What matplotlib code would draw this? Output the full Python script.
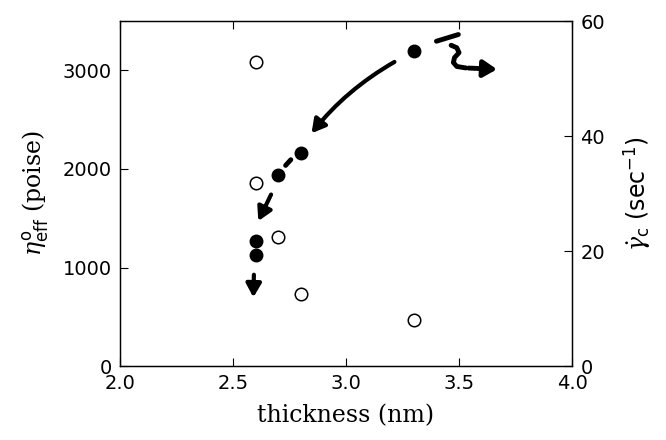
import numpy as np
import matplotlib.pyplot as plt

# filled circles: eta_eff (left axis, poise)
thick_eta = [3.3, 2.8, 2.7, 2.6, 2.6]
eta_eff = [3200, 2165, 1935, 1270, 1132]

# open circles: gamma_c (right axis, 1/sec)
thick_gam = [2.6, 2.6, 2.7, 2.8, 3.3]
gamma_c = [52.9, 31.8, 22.5, 12.6, 8.1]

# hand drawn arrows (start x, start y, end x, end y, curvature), left axis units
arrows = [
    (3.225, 3100, 2.84, 2340, 0.1),
    (2.674, 1766, 2.607, 1446, 0.0),
    (2.593, 955, 2.59, 669, 0.0),
]
# short dashes
dashes = [
    ([3.40, 3.497], [3296, 3364]),
    ([2.733, 2.756], [2036, 2094]),
]
# squiggle arrow
squig_x = [3.465, 3.49, 3.50, 3.48, 3.475, 3.49, 3.53]
squig_y = [3255, 3230, 3180, 3130, 3080, 3040, 3025]
squig_tip = (3.68, 3010)

plt.rcParams['font.family'] = 'DejaVu Sans'
plt.rcParams['mathtext.fontset'] = 'dejavuserif'

fig = plt.figure(figsize=(6.66, 4.40), dpi=100)
ax = fig.add_axes([0.180, 0.168, 0.679, 0.784])
ax2 = ax.twinx()

ax.plot(thick_eta, eta_eff, 'o', color='black', ms=9, zorder=5)
ax2.plot(thick_gam, gamma_c, 'o', mfc='white', mec='black', mew=1.1, ms=9)

for x0, y0, x1, y1, rad in arrows:
    ax.annotate('', xy=(x1, y1), xytext=(x0, y0),
                arrowprops=dict(arrowstyle='-|>,head_length=0.8,head_width=0.45',
                                color='black', lw=3,
                                connectionstyle='arc3,rad=%g' % rad))
for dx, dy in dashes:
    ax.plot(dx, dy, color='black', lw=3.5, solid_capstyle='round')
ax.plot(squig_x, squig_y, color='black', lw=3.5, solid_capstyle='round',
        solid_joinstyle='round')
ax.annotate('', xy=squig_tip, xytext=(squig_x[-1], squig_y[-1]),
            arrowprops=dict(arrowstyle='-|>,head_length=0.8,head_width=0.5',
                            color='black', lw=3.5))

ax.set_xlim(2.0, 4.0)
ax.set_ylim(0, 3500)
ax2.set_ylim(0, 60)
ax.set_xticks([2.0, 2.5, 3.0, 3.5, 4.0])
ax.set_xticklabels(['2.0', '2.5', '3.0', '3.5', '4.0'])
ax.set_yticks([0, 1000, 2000, 3000])
ax2.set_yticks([0, 20, 40, 60])

for a in (ax, ax2):
    a.tick_params(direction='in', length=6, width=0.8, labelsize=14,
                  top=True, pad=6)
    for s in a.spines.values():
        s.set_linewidth(0.9)

ax.set_xlabel('thickness (nm)', family='DejaVu Serif', fontsize=17, labelpad=8)
ax.set_ylabel(r'$\eta^{\mathsf{o}}_{\mathsf{eff}}$ (poise)', family='DejaVu Serif',
              fontsize=17, labelpad=8)
ax2.set_ylabel(r'$\dot{\gamma}_{\mathsf{c}}$ (sec$^{\mathsf{-1}}$)', fontsize=17,
               rotation=90, labelpad=12)

fig.savefig('out.png', dpi=100)
